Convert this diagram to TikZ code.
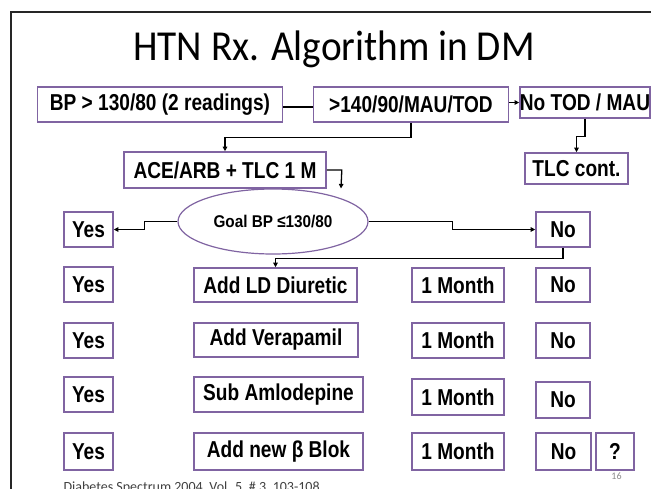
\documentclass[tikz,border=0pt]{standalone}
\usepackage{fontspec}
\setmainfont{Carlito}
\newfontfamily\titlefont[FakeStretch=0.92]{Carlito}
\newfontfamily\boxfont[FakeStretch=0.83]{Liberation Sans Bold}
\newfontfamily\ellfont[FakeStretch=0.9]{Liberation Sans Bold}
\usetikzlibrary{arrows.meta,shapes.geometric}
\definecolor{boxpurple}{RGB}{128,100,162}
\tikzset{
  fbox/.style={draw=boxpurple, line width=1.6pt, fill=white, inner sep=0pt,
     font=\boxfont\fontsize{23}{23}\selectfont, text=black},
  conn/.style={draw=black, line width=1.3pt},
  arr/.style={conn, -{Triangle[length=4.5pt,width=4.5pt]}},
}
\newcommand{\bx}[6]{\node[fbox, minimum width=#4pt, minimum height=#5pt] (#1) at (#2,#3) {#6};}
\begin{document}
\begin{tikzpicture}[x=1pt,y=-1pt]
\clip (0,0) rectangle (651,488);
\fill[white] (0,0) rectangle (651,488);
% frame
\draw[line width=2pt, black!85] (11,500) |- (660,12);
% title
\node[anchor=base, font=\titlefont\fontsize{42.7}{42.7}\selectfont] (title) at (334,60) {HTN Rx. Algorithm in DM};
% top row
\bx{bp}{160}{104.5}{245}{35}{BP > 130/80 (2 readings)}
\bx{t140}{411}{104.5}{195}{35}{>140/90/MAU/TOD}
\bx{notod}{585}{102.5}{130}{31}{No TOD / MAU}
\bx{ace}{225}{170}{202}{36}{ACE/ARB + TLC 1 M}
\bx{tlc}{576.5}{168.5}{103}{31}{TLC cont.}
\node[ellipse, draw=boxpurple, line width=1.2pt, fill=white, minimum width=190pt, minimum height=65pt, inner sep=0pt,
      font=\ellfont\fontsize{17}{17}\selectfont] (goal) at (273,221.5) {Goal BP ≤130/80};
\bx{yes1}{88.5}{229.5}{49}{35}{Yes}
\bx{no1}{563}{229.5}{54}{35}{No}
% row 2
\bx{yes2}{88.5}{284.5}{49}{35}{Yes}
\bx{ld}{275.5}{285}{163}{34}{Add LD Diuretic}
\bx{m1}{458}{285}{92}{34}{1 Month}
\bx{no2}{563}{285}{54}{34}{No}
% row 3
\bx{yes3}{88.5}{340.5}{49}{35}{Yes}
\bx{vera}{276}{340}{164}{34}{Add Verapamil}
\bx{m2}{458}{340.5}{92}{35}{1 Month}
\bx{no3}{563}{340.5}{54}{35}{No}
% row 4
\bx{yes4}{88.5}{394.5}{49}{35}{Yes}
\bx{sub}{278.5}{394.5}{169}{35}{Sub Amlodepine}
\bx{m3}{458}{397}{92}{36}{1 Month}
\bx{no4}{563}{400}{54}{36}{No}
% row 5
\bx{yes5}{88.5}{451.5}{49}{37}{Yes}
\bx{blok}{278.5}{451.5}{169}{37}{Add new β Blok}
\bx{m4}{458}{451.5}{92}{37}{1 Month}
\bx{no5}{563.5}{451.5}{55}{37}{No}
\bx{q}{615}{451.5}{38}{37}{?}
% connectors
\draw[conn] ([yshift=-2.5pt]bp.east) -- ([yshift=-2.5pt]t140.west);
\draw[arr] (t140.east |- notod.west) -- (notod.west);
\draw[arr] (t140.south) -- ++(0,15) -| (ace.north);
\draw[arr] (notod.south) -- ++(0,17.5) -| (tlc.north);
\draw[arr] (ace.east) -- ++(15,0) -- (goal.north -| 341,0) ;
\draw[arr] (goal.west) -- ++(-33,0) |- (yes1.east);
\draw[arr] (goal.east) -- ++(84,0) |- (no1.west);
\draw[arr] (no1.south) -- ++(0,11) -| (ld.north);
% footnote and page number
\node[anchor=base west, font=\fontsize{14}{14}\selectfont, text=black!75] (foot) at (60,491) {Diabetes Spectrum 2004, Vol. 5, \# 3, 103-108};
\node[font=\fontsize{10}{10}\selectfont, text=black!45] (pg) at (616.5,476.5) {16};
\end{tikzpicture}
\end{document}
